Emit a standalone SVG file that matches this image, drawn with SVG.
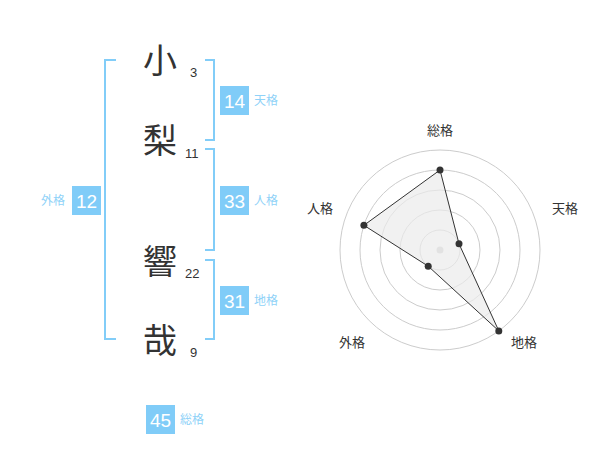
<svg xmlns="http://www.w3.org/2000/svg" width="600" height="470" viewBox="0 0 600 470">
<style>
.ch{font-family:"Noto Sans CJK JP",sans-serif;font-size:34px;fill:#333;text-anchor:middle}
.n{font-family:"Liberation Sans",Arial,sans-serif;font-size:13px;fill:#333}
.br{fill:none;stroke:#82cdf8;stroke-width:2}
.box{fill:#80ccf8}
.bt{font-family:"Liberation Sans",Arial,sans-serif;font-size:19px;fill:#fff;text-anchor:middle}
.bl{font-family:"Noto Sans CJK JP",sans-serif;font-size:12px;fill:#8fd2f8}
.ring{fill:none;stroke:#ccc;stroke-width:1}
.rl{font-family:"Noto Sans CJK JP",sans-serif;font-size:13px;fill:#333;text-anchor:middle}
.pt{fill:#333}
</style>
<g id="name">
<g id="c1"><text class="ch" x="160" y="73">小</text><text class="n" x="190" y="77">3</text></g>
<g id="c2"><text class="ch" x="160" y="153">梨</text><text class="n" x="185" y="158">11</text></g>
<g id="c3"><text class="ch" x="160" y="274">響</text><text class="n" x="185" y="278">22</text></g>
<g id="c4"><text class="ch" x="160" y="353">哉</text><text class="n" x="190" y="357">9</text></g>
</g>
<g id="brackets">
<path class="br" d="M116,60 H105 V339 H116"/>
<path class="br" d="M205,60 H214 V140 H205"/>
<path class="br" d="M205,149 H214 V250 H205"/>
<path class="br" d="M205,260 H214 V339 H205"/>
</g>
<g id="tenkaku"><rect class="box" x="220" y="86" width="29" height="29"/><text class="bt" x="234.5" y="107.5">14</text><text class="bl" x="254" y="105">天格</text></g>
<g id="jinkaku"><rect class="box" x="220" y="186" width="29" height="29"/><text class="bt" x="234.5" y="207.5">33</text><text class="bl" x="254" y="205">人格</text></g>
<g id="chikaku"><rect class="box" x="220" y="286" width="29" height="29"/><text class="bt" x="234.5" y="307.5">31</text><text class="bl" x="254" y="305">地格</text></g>
<g id="gaikaku"><rect class="box" x="72" y="186" width="29" height="29"/><text class="bt" x="86.5" y="207.5">12</text><text class="bl" x="41" y="205">外格</text></g>
<g id="soukaku"><rect class="box" x="146" y="405" width="29" height="29"/><text class="bt" x="160.5" y="426.5">45</text><text class="bl" x="180" y="424">総格</text></g>
<g id="radar">
<circle class="ring" cx="440" cy="250" r="20"/>
<circle class="ring" cx="440" cy="250" r="40"/>
<circle class="ring" cx="440" cy="250" r="60"/>
<circle class="ring" cx="440" cy="250" r="80"/>
<circle class="ring" cx="440" cy="250" r="100"/>
<circle cx="440" cy="250" r="3.5" fill="#ccc"/>
<polygon points="440,170 459,243.8 498.8,330.9 428.2,266.2 363.9,225.3" fill="#ebebeb" fill-opacity="0.7" stroke="#333" stroke-width="1"/>
<circle class="pt" cx="440" cy="170" r="3.5"/>
<circle class="pt" cx="459" cy="243.8" r="3.5"/>
<circle class="pt" cx="498.8" cy="330.9" r="3.5"/>
<circle class="pt" cx="428.2" cy="266.2" r="3.5"/>
<circle class="pt" cx="363.9" cy="225.3" r="3.5"/>
<text class="rl" x="440" y="135">総格</text>
<text class="rl" x="565" y="213">天格</text>
<text class="rl" x="524" y="347">地格</text>
<text class="rl" x="352" y="347">外格</text>
<text class="rl" x="320" y="213">人格</text>
</g>
</svg>
